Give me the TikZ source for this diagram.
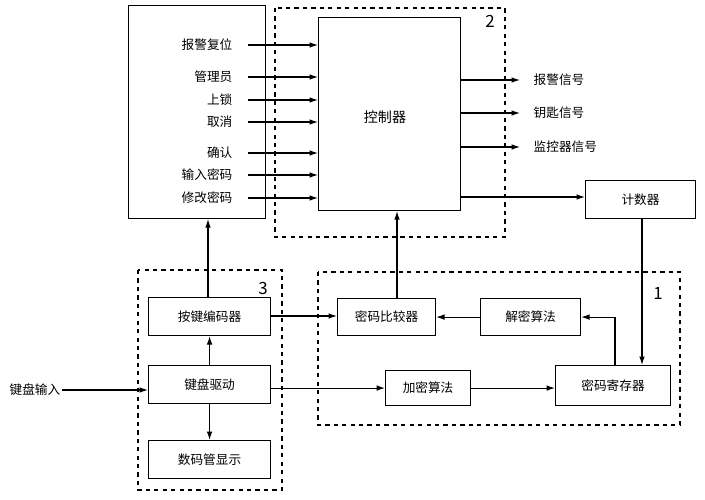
\documentclass[tikz,border=0pt]{standalone}
\usepackage{fontspec}
\setmainfont{Noto Sans CJK SC}
\usetikzlibrary{arrows.meta,positioning,calc}

\begin{document}
\begin{tikzpicture}[
    x=0.025cm, y=-0.025cm,
    block/.style={
        rectangle,
        draw,
        thick,
        anchor=north west,
        inner sep=0pt,
        font=\small
    },
    group/.style={draw,dashed,thick},
    arrow/.style={-{Latex[length=6pt,width=4pt]},thick},
    lbl/.style={font=\small,inner sep=1pt}
]
    \useasboundingbox (0,0) rectangle (705,500);

    % Dashed groups
    \draw[group] (275,8) rectangle (505,237);
    \draw[group] (318,272) rectangle (680,425);
    \draw[group] (138,270) rectangle (282,490);
    \node[font=\large] at (490,21) {2};
    \node[font=\large] at (658,293) {1};
    \node[font=\large] at (263,288) {3};

    % Nodes
    \node[block,minimum width=137*0.025cm,minimum height=213*0.025cm] (panel) at (128,5) {};
    \node[block,minimum width=142*0.025cm,minimum height=193*0.025cm] (ctrl) at (318,17) {};
    \node at (385,117) {控制器};
    \node[block,minimum width=110*0.025cm,minimum height=38*0.025cm] (count) at (585,180) {计数器};

    \node[block,minimum width=98*0.025cm,minimum height=37*0.025cm] (cmp) at (337,298) {密码比较器};
    \node[block,minimum width=100*0.025cm,minimum height=37*0.025cm] (dec) at (480,298) {解密算法};
    \node[block,minimum width=85*0.025cm,minimum height=35*0.025cm] (enc) at (385,370) {加密算法};
    \node[block,minimum width=115*0.025cm,minimum height=40*0.025cm] (reg) at (555,365) {密码寄存器};

    \node[block,minimum width=122*0.025cm,minimum height=38*0.025cm] (keyenc) at (148,297) {按键编码器};
    \node[block,minimum width=122*0.025cm,minimum height=38*0.025cm] (drv) at (148,365) {键盘驱动};
    \node[block,minimum width=122*0.025cm,minimum height=38*0.025cm] (disp) at (148,440) {数码管显示};
    \node[lbl] (kin) at (35,390) {键盘输入};

    % Panel inputs
    \foreach \y/\t in {45/报警复位,77/管理员,100/上锁,122/取消,153/确认,175/输入密码,198/修改密码} {
        \node[lbl,anchor=east] at (234,\y) {\t};
        \draw[arrow] (248,\y) -- (ctrl.west |- 0,\y);
    }

    % Outputs
    \foreach \y/\t in {80/报警信号,113/钥匙信号,147/监控器信号} {
        \draw[arrow] (ctrl.east |- 0,\y) -- (520,\y);
        \node[lbl,anchor=west] at (532,\y) {\t};
    }
    \draw[arrow] (ctrl.east |- 0,197) -- (count.west |- 0,197);

    % Arrows
    \draw[arrow] (count.south -| 642,0) -- (reg.north -| 642,0);
    \draw[arrow] (kin) -- (drv.west |- kin);
    \draw[arrow] (drv) -- (keyenc);
    \draw[arrow] (drv) -- (disp);
    \draw[arrow] (keyenc.north -| 208,0) -- (panel.south -| 208,0);
    \draw[arrow] (keyenc.east |- 0,316) -- (cmp.west |- 0,316);
    \draw[arrow] (drv.east |- enc) -- (enc);
    \draw[arrow] (enc) -- (reg.west |- enc);
    \draw[arrow] (reg.north -| 615,0) |- (dec.east);
    \draw[arrow] (dec) -- (cmp);
    \draw[arrow] (cmp.north -| 397,0) -- (ctrl.south -| 397,0);
\end{tikzpicture}
\end{document}
